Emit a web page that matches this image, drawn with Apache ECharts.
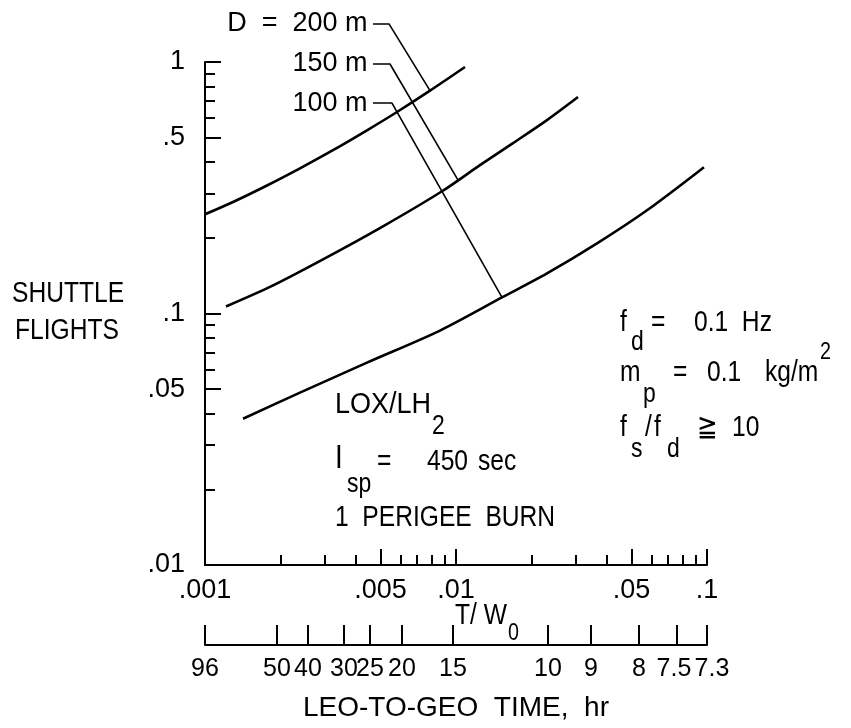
<!DOCTYPE html>
<html><head><meta charset="utf-8">
<script src="https://cdn.jsdelivr.net/npm/echarts@6/dist/echarts.min.js"></script>
<style>html,body{margin:0;padding:0;background:#fff}#c{width:851px;height:728px}</style>
</head><body><div id="c"></div>
<script>
// ---- data ----
const twMajor = [0.001, 0.005, 0.01, 0.05, 0.1];
const twMajorLabels = ['.001', '.005', '.01', '.05', '.1'];
const twMinor = [0.002, 0.003, 0.004, 0.006, 0.007, 0.008, 0.009, 0.02, 0.03, 0.04, 0.06, 0.07, 0.08, 0.09];
const flightMajor = [0.01, 0.05, 0.1, 0.5, 1];
const flightMajorLabels = ['.01', '.05', '.1', '.5', '1'];
const flightMinor = [0.02, 0.03, 0.04, 0.06, 0.07, 0.08, 0.09, 0.2, 0.3, 0.4, 0.6, 0.7, 0.8, 0.9];
const timeTickTW = [0.001, 0.001936, 0.002573, 0.003579, 0.004543, 0.006095, 0.009728, 0.02325, 0.0345, 0.0536, 0.07594, 0.1];
const timeLabels = ['96', '50', '40', '30', '25', '20', '15', '10', '9', '8', '7.5', '7.3'];

const curve200 = [[0.001, 0.248], [0.001293, 0.2776], [0.001766, 0.3229], [0.00239, 0.3778], [0.003236, 0.446], [0.004419, 0.535], [0.005821, 0.6327], [0.007879, 0.7691], [0.01086, 0.955]];
const curve150 = [[0.001212, 0.1066], [0.001832, 0.1281], [0.002952, 0.1641], [0.005119, 0.2221], [0.008795, 0.3062], [0.01246, 0.3888], [0.01687, 0.4757], [0.02304, 0.5873], [0.03063, 0.7253]];
const curve100 = [[0.001417, 0.03817], [0.00239, 0.04844], [0.004419, 0.06379], [0.008636, 0.08555], [0.01525, 0.1158], [0.02304, 0.1443], [0.03646, 0.19], [0.05768, 0.2573], [0.09727, 0.3817]];

const leaderNames = ['D  =  200 m', '150 m', '100 m'];
const leader200 = [[0.004669, 1.417], [0.005409, 1.417], [0.007879, 0.7691]];
const leader150 = [[0.004669, 0.982], [0.005458, 0.982], [0.01019, 0.3388]];
const leader100 = [[0.004669, 0.6866], [0.005559, 0.6866], [0.01525, 0.1158]];

// ---- chart ----
const FONT = '"Liberation Sans", Arial, sans-serif';
function nearestIndex(v, vals) {
  let bi = 0, bd = Infinity;
  vals.forEach((t, i) => { const d = Math.abs(Math.log10(t) - Math.log10(v)); if (d < bd) { bd = d; bi = i; } });
  return bi;
}
const chart = echarts.init(document.getElementById('c'), null, { renderer: 'canvas' });
const black = '#000';
function tickAxis(extra) {
  return Object.assign({
    type: 'log', logBase: 10, gridIndex: 0,
    axisLine: { show: false, onZero: false },
    splitLine: { show: false }, minorTick: { show: false }, minorSplitLine: { show: false },
    axisLabel: { show: false }
  }, extra);
}
function curveSeries(data) {
  return { type: 'line', data: data, smooth: 0.3, symbol: 'none', xAxisIndex: 0, yAxisIndex: 0,
    lineStyle: { color: black, width: 2.6 }, silent: true, z: 3 };
}
function leaderSeries(data, name) {
  const d = data.map((p, i) => i === 0 ? { value: p, label: { show: true, formatter: name, position: 'left', distance: 5,
    color: black, fontSize: 27, fontFamily: FONT } } : { value: p });
  return { type: 'line', data: d, symbol: 'circle', symbolSize: 1, showSymbol: true, clip: false, xAxisIndex: 0, yAxisIndex: 0,
    itemStyle: { color: 'rgba(0,0,0,0)' }, labelLayout: { hideOverlap: false },
    lineStyle: { color: black, width: 1.6 }, silent: true, z: 2 };
}
const SX = 0.82;
const txt = (text, x, y, size, sx) => ({ type: 'text', x: x, y: y, scaleX: sx || SX, silent: true,
  style: { text: text, fill: black, fontSize: size || 30, fontFamily: FONT, align: 'left', verticalAlign: 'middle' } });

chart.setOption({
  animation: false,
  backgroundColor: '#fff',
  grid: { left: 205, top: 62, width: 502, height: 503, outerBoundsMode: 'none', containLabel: false },
  xAxis: [
    tickAxis({ position: 'bottom', min: 0.001, max: 0.1,
      axisLine: { show: true, onZero: false, lineStyle: { color: black, width: 2 } },
      axisTick: { show: true, inside: true, length: 16, customValues: twMajor, lineStyle: { color: black, width: 2 } },
      axisLabel: { show: true, customValues: twMajor, margin: 12, color: black, fontSize: 27, fontFamily: FONT,
        showMinLabel: true, showMaxLabel: true,
        formatter: v => twMajorLabels[nearestIndex(v, twMajor)] } }),
    tickAxis({ position: 'bottom', min: 0.001, max: 0.1,
      axisTick: { show: true, inside: true, length: 10, customValues: twMinor, lineStyle: { color: black, width: 2 } } }),
    tickAxis({ position: 'bottom', offset: 80, min: 0.001, max: 0.1,
      name: 'LEO-TO-GEO  TIME,  hr', nameLocation: 'middle', nameGap: 49, nameMoveOverlap: false,
      nameTextStyle: { color: black, fontSize: 28, fontFamily: FONT },
      axisLine: { show: true, onZero: false, lineStyle: { color: black, width: 2 } },
      axisTick: { show: true, inside: true, length: 20, customValues: timeTickTW, lineStyle: { color: black, width: 2 } },
      axisLabel: { show: true, customValues: timeTickTW, margin: 12, color: black, fontSize: 25, fontFamily: FONT,
        hideOverlap: false, showMinLabel: true, showMaxLabel: true,
        formatter: v => {
          const i = nearestIndex(v, timeTickTW);
          if (i === timeLabels.length - 1) return '{r|' + timeLabels[i] + '}';
          if (i === timeLabels.length - 2) return '{l|' + timeLabels[i] + '}';
          return timeLabels[i];
        },
        rich: { r: { padding: [0, 0, 0, 10], fontSize: 25, fontFamily: FONT, color: black },
                l: { padding: [0, 6, 0, 0], fontSize: 25, fontFamily: FONT, color: black } } } })
  ],
  yAxis: [
    tickAxis({ position: 'left', min: 0.01, max: 1,
      axisLine: { show: true, onZero: false, lineStyle: { color: black, width: 2 } },
      axisTick: { show: true, inside: true, length: 16, customValues: flightMajor, lineStyle: { color: black, width: 2 } },
      axisLabel: { show: true, customValues: flightMajor, margin: 20, color: black, fontSize: 27, fontFamily: FONT,
        showMinLabel: true, showMaxLabel: true,
        formatter: v => flightMajorLabels[nearestIndex(v, flightMajor)] } }),
    tickAxis({ position: 'left', min: 0.01, max: 1,
      axisTick: { show: true, inside: true, length: 10, customValues: flightMinor, lineStyle: { color: black, width: 2 } } })
  ],
  series: [
    curveSeries(curve200), curveSeries(curve150), curveSeries(curve100),
    leaderSeries(leader200, leaderNames[0]), leaderSeries(leader150, leaderNames[1]), leaderSeries(leader100, leaderNames[2])
  ],
  graphic: [
    txt('SHUTTLE', 12, 294), txt('FLIGHTS', 15, 331),
    txt('T/ W', 455, 616), txt('0', 508, 633, 24),
    txt('f', 620, 323), txt('d', 631, 342, 28), txt('=', 651, 323), txt('0.1  Hz', 694, 323),
    txt('m', 620, 373), txt('p', 643, 394, 28), txt('=', 673, 373), txt('0.1', 707, 373), txt('kg/m', 765, 373), txt('2', 820, 352, 24),
    txt('f', 620, 428), txt('s', 631, 449, 28), txt('/', 645, 428), txt('f', 654, 428), txt('d', 667, 449, 28), txt('\u2267', 697, 428), txt('10', 732, 428),
    txt('LOX/LH', 335, 405, 30, 0.9), txt('2', 432, 426, 28),
    txt('I', 335, 459, 34), txt('sp', 347, 484, 28), txt('=', 377, 462), txt('450', 427, 462), txt('sec', 478, 462),
    txt('1  PERIGEE  BURN', 335, 518)
  ]
});
</script>
</body></html>
